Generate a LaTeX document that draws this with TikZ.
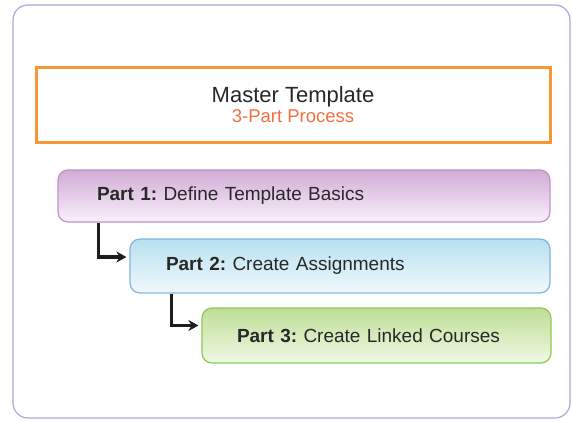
\documentclass[tikz,border=0pt]{standalone}
\usepackage{fontspec}
\setmainfont{Liberation Sans}
\usetikzlibrary{arrows.meta}
\definecolor{framec}{RGB}{168,168,220}
\definecolor{orangeb}{RGB}{247,150,50}
\definecolor{subc}{RGB}{242,112,64}
\definecolor{txt}{RGB}{40,40,40}
\definecolor{ptop}{RGB}{210,172,214}
\definecolor{pbot}{RGB}{248,240,250}
\definecolor{pbord}{RGB}{192,144,202}
\definecolor{btop}{RGB}{184,224,240}
\definecolor{bbot}{RGB}{240,249,252}
\definecolor{bbord}{RGB}{132,180,224}
\definecolor{gtop}{RGB}{190,222,150}
\definecolor{gbot}{RGB}{240,248,230}
\definecolor{gbord}{RGB}{142,202,82}
\definecolor{arrc}{RGB}{30,30,30}
\begin{document}
\frenchspacing
\begin{tikzpicture}[x=1pt,y=-1pt,
  partbox/.style={rounded corners=10pt, line width=1.2pt, minimum height=#1, align=left,
    font=\fontsize{19}{22}\selectfont\frenchspacing, text=txt},
  conn/.style={line width=3.5pt, draw=arrc,
    -{Stealth[length=10pt,width=11pt]}, shorten >=3pt}]
\useasboundingbox (0,0) rectangle (572,421);
\fill[white] (0,0) rectangle (572,421);
\draw[framec, line width=1.2pt, rounded corners=15pt] (13,5) rectangle (570,418);
\node[draw=orangeb, line width=3pt, minimum width=514pt, minimum height=75pt,
  align=center, text=txt, font=\fontsize{22}{21}\selectfont] (m) at (293,104.5)
  {Master Template\\[-1pt]{\color{subc}\fontsize{18.5}{21}\selectfont 3-Part Process}};
\node[partbox=52pt, draw=pbord, top color=ptop, bottom color=pbot,
  inner xsep=39pt, text width=414pt] (p1) at (304,196)
  {\textbf{Part 1:} Define Template Basics};
\node[partbox=54pt, draw=bbord, top color=btop, bottom color=bbot,
  inner xsep=36pt, text width=348pt] (p2) at (340,266)
  {\textbf{Part 2:} Create Assignments};
\node[partbox=55pt, draw=gbord, top color=gtop, bottom color=gbot,
  inner xsep=35pt, text width=279pt] (p3) at (376.5,335.5)
  {\textbf{Part 3:} Create Linked Courses};
\draw[conn] ([xshift=41pt]p1.south west) |- ([yshift=9pt]p2.west);
\draw[conn] ([xshift=42pt]p2.south west) |- ([yshift=10pt]p3.west);
\end{tikzpicture}
\end{document}
